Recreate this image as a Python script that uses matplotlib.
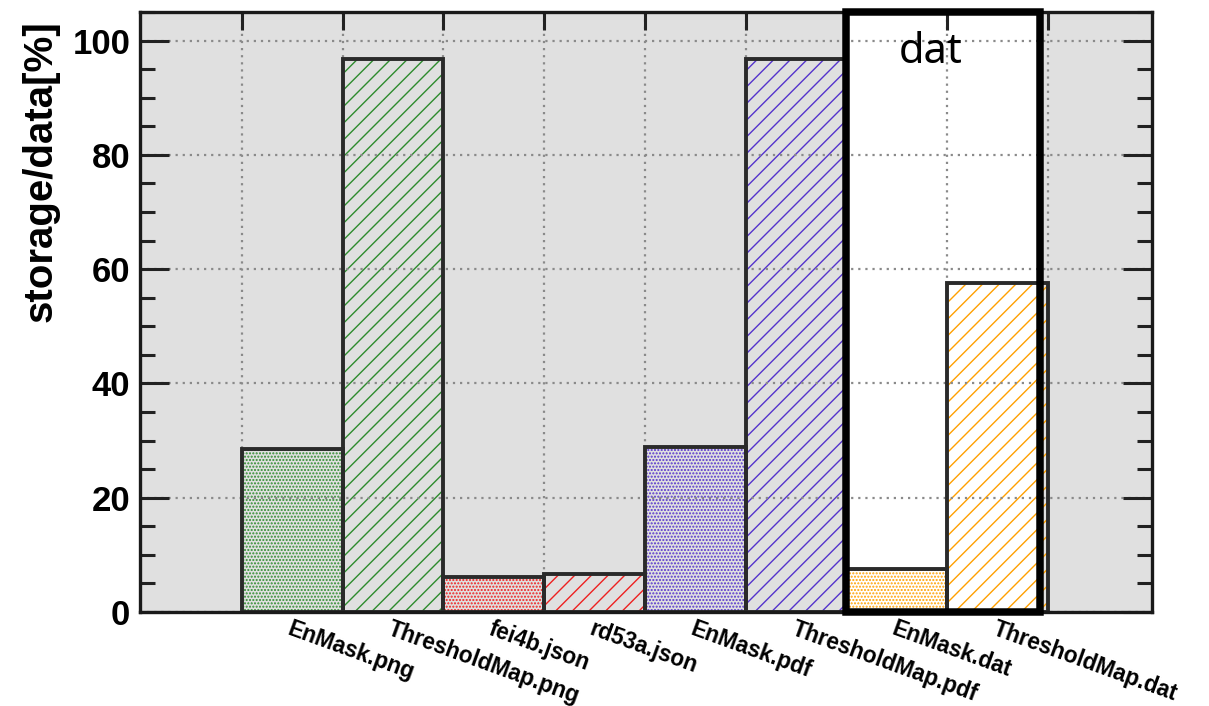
import matplotlib
matplotlib.use("Agg")
import matplotlib.pyplot as plt
from matplotlib.patches import Rectangle
import matplotlib.transforms as mtransforms
import numpy as np

# ---------------- data ----------------
categories = ["EnMask.png", "ThresholdMap.png", "fei4b.json", "rd53a.json",
              "EnMask.pdf", "ThresholdMap.pdf", "EnMask.dat", "ThresholdMap.dat"]
values = [28.5, 96.8, 6.2, 6.6, 28.9, 96.8, 7.6, 57.6]
bar_colors = ["#2e8b2e", "#2e8b2e", "#ee2020", "#ee2020",
              "#5533cc", "#5533cc", "#ffa000", "#ffa000"]
hatches = [".....", "//", ".....", "//", ".....", "//", ".....", "//"]
y_ticks = [0, 20, 40, 60, 80, 100]
y_label = "storage/data[%]"
box_label = "dat"

plt.rcParams["font.family"] = ["Liberation Sans", "DejaVu Sans"]
plt.rcParams["hatch.linewidth"] = 1.0

fig = plt.figure(figsize=(12.09, 7.06), dpi=100)
ax = fig.add_axes([140/1209, 1-612/706, (1152-140)/1209, (612-12)/706])
ax.set_facecolor("#e0e0e0")

x_left = np.arange(1, len(categories) + 1)
x_center = x_left + 0.5

# white box behind the "dat" bars
trans = mtransforms.blended_transform_factory(ax.transData, ax.transAxes)
ax.add_patch(Rectangle((6.99, 0), 8.92 - 6.99, 1, transform=trans,
                       facecolor="white", edgecolor="none", zorder=0.5))

# hatched bars
for xl, v, c, h in zip(x_left, values, bar_colors, hatches):
    ax.bar(xl, v, width=1.0, align="edge", facecolor="none", edgecolor=c,
           hatch=h, linewidth=0, zorder=1)
# outlines
ax.bar(x_left, values, width=1.0, align="edge", fill=False,
       edgecolor="#2a2a2a", linewidth=2.8, zorder=3)

# thick frame around dat bars
ax.add_patch(Rectangle((6.99, 0), 8.92 - 6.99, 1, transform=trans,
                       facecolor="none", edgecolor="black", linewidth=5.4,
                       zorder=4, clip_on=False))
ax.text(7.83, 96.0, box_label, ha="center", va="baseline", fontsize=30,
        family=["Noto Sans", "DejaVu Sans"], zorder=5)

ax.set_xlim(-0.01, 10.03)
ax.set_ylim(0, 105)

# y axis
ax.set_yticks(y_ticks)
ax.set_yticklabels([str(t) for t in y_ticks], fontsize=25, fontweight="bold")
ax.yaxis.set_minor_locator(matplotlib.ticker.MultipleLocator(5))
ax.tick_params(axis="y", which="major", direction="in", length=21, width=2.2,
               left=True, right=True, pad=7, color="#222222")
ax.tick_params(axis="y", which="minor", direction="in", length=11, width=2.2,
               left=True, right=True, color="#222222")

# x axis: labels at centers, ticks at edges on top
ax.set_xticks(x_center)
ax.set_xticklabels(categories, fontsize=16.3, fontweight="bold",
                   rotation=-20, rotation_mode="anchor", ha="left", va="top")
ax.set_xticks(np.arange(1, len(categories) + 2), minor=True)
ax.tick_params(axis="x", which="major", length=0, pad=4, bottom=True, top=False)
ax.tick_params(axis="x", which="minor", direction="in", length=13, width=2.2,
               top=True, bottom=False, color="#222222")

# grid
ax.grid(axis="y", which="major", color="#8a8a8a", linestyle=(0, (1, 2.2)),
        linewidth=1.6, zorder=2.5)
ax.grid(axis="x", which="minor", color="#8a8a8a", linestyle=(0, (1, 2.2)),
        linewidth=1.6, zorder=2.5)
ax.set_axisbelow(False)

for s in ax.spines.values():
    s.set_linewidth(2.4)
    s.set_color("#1a1a1a")
    s.set_zorder(3.5)

fig.text(41/1209, 1 - 20/706, y_label, rotation=90, ha="center", va="top",
         fontsize=29, fontweight="bold")

fig.savefig("out.png", dpi=100)
